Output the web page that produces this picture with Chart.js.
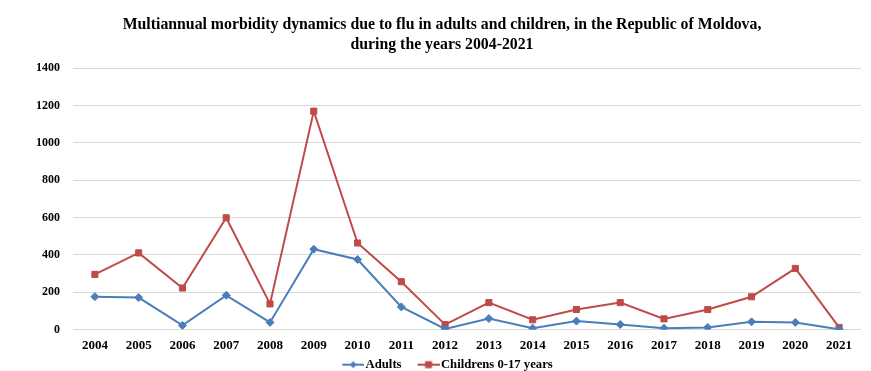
<!DOCTYPE html>
<html>
<head>
<meta charset="utf-8">
<script src="https://cdn.jsdelivr.net/npm/chart.js@4.4.1/dist/chart.umd.min.js"></script>
<style>
html,body{margin:0;padding:0;background:#fff;}
#wrap{width:871px;height:371px;position:relative;}
</style>
</head>
<body>
<div id="wrap"><canvas id="c" width="871" height="371"></canvas></div>
<script>
const years = ['2004','2005','2006','2007','2008','2009','2010','2011','2012','2013','2014','2015','2016','2017','2018','2019','2020','2021'];
const adults = [177,172,23,184,39,431,376,122,4,60,8,46,28,8,12,42,39,2];
const children = [296,411,223,599,138,1170,464,257,27,145,53,108,145,58,108,176,328,12];
const yTicks = [0,200,400,600,800,1000,1200,1400];
const titleLines = ['Multiannual morbidity dynamics due to flu in adults and children, in the Republic of Moldova,','during the years 2004-2021'];

const BLUE = '#4A7EBB', RED = '#BE4B48';
const FONT = '"Liberation Serif", "Times New Roman", serif';

function legendIcon(color, shape){
  const cv = document.createElement('canvas');
  cv.width = 38; cv.height = 10;
  const g = cv.getContext('2d');
  g.strokeStyle = color; g.lineWidth = 2;
  g.beginPath(); g.moveTo(16,5); g.lineTo(38,5); g.stroke();
  g.fillStyle = color;
  const cx = 27;
  if (shape === 'rect'){ g.fillRect(cx-3.5,1.5,7,7); }
  else { g.beginPath(); g.moveTo(cx,1.5); g.lineTo(cx+3.5,5); g.lineTo(cx,8.5); g.lineTo(cx-3.5,5); g.closePath(); g.fill(); }
  return cv;
}
const icons = [legendIcon(BLUE,'rot'), legendIcon(RED,'rect')];

new Chart(document.getElementById('c'), {
  type: 'line',
  data: {
    labels: years,
    datasets: [
      {label:'Adults', data: adults, borderColor: BLUE, backgroundColor: BLUE, borderWidth: 2,
       pointStyle:'rectRot', pointRadius: 4, pointBorderWidth: 1, tension: 0},
      {label:'Childrens 0-17 years', data: children, borderColor: RED, backgroundColor: RED, borderWidth: 2,
       pointStyle:'rect', pointRadius: 4.3, pointBorderWidth: 1, tension: 0}
    ]
  },
  options: {
    responsive: false,
    animation: false,
    devicePixelRatio: 1,
    layout: {padding: {left: 23, right: 10, top: 11, bottom: -10}},
    plugins: {
      title: {display: true, text: titleLines, color: '#000',
        font: {family: FONT, size: 15.8, weight: 'bold', lineHeight: 1.27}, padding: {top: 4, bottom: 13}},
      legend: {position: 'bottom', labels: {
        color: '#000', font: {family: FONT, size: 12.7, weight: 'bold'},
        usePointStyle: true, pointStyleWidth: 28, boxHeight: 10, padding: 5,
        generateLabels: (chart) => chart.data.datasets.map((ds,i) => ({
          text: ds.label, pointStyle: icons[i], fillStyle: ds.borderColor, strokeStyle: ds.borderColor,
          lineWidth: 0, datasetIndex: i, hidden: false
        }))
      }},
      tooltip: {enabled: false}
    },
    scales: {
      x: {offset: true, grid: {display: false}, border: {display: false},
          ticks: {color: '#000', font: {family: FONT, size: 13, weight: 'bold'}, padding: 0, maxRotation: 0, autoSkip: false}},
      y: {min: 0, max: 1400, afterBuildTicks: (ax) => { ax.ticks = yTicks.map(v => ({value: v})); },
          grid: {color: '#d9d9d9', lineWidth: 1, drawTicks: false}, border: {display: false},
          ticks: {color: '#000', font: {family: FONT, size: 12, weight: 'bold'}, padding: 13,
                  callback: (v) => String(v)}}
    }
  }
});
</script>
</body>
</html>
